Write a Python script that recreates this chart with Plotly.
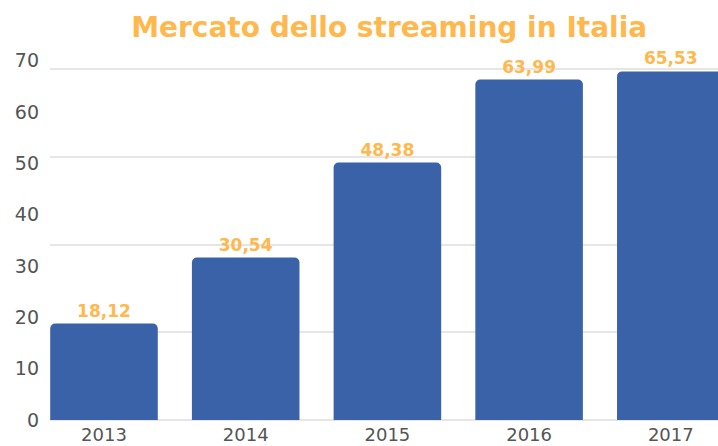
import plotly.graph_objects as go

# Italian streaming market by year
years = ["2013", "2014", "2015", "2016", "2017"]
market = [18.12, 30.54, 48.38, 63.99, 65.53]
axis_labels = [0, 10, 20, 30, 40, 50, 60, 70]

title_text = "Mercato dello streaming in Italia"

BAR_COLOR = "#3a62a8"
ACCENT = "#ffb84d"
TICK_GRAY = "#555555"
GRID_GRAY = "#e6e6e6"

fig = go.Figure()

fig.add_trace(go.Bar(
    x=years,
    y=market,
    marker=dict(color=BAR_COLOR, line=dict(width=0)),
    texttemplate="%{y:.2f}",
    textposition="outside",
    textfont=dict(family="DejaVu Sans", size=17, color=ACCENT, weight="bold"),
    cliponaxis=False,
    hoverinfo="x+y",
    showlegend=False,
))

# companion axis carrying the value scale labels
fig.add_trace(go.Scatter(
    x=years, y=[None] * len(years), yaxis="y2",
    mode="markers", showlegend=False, hoverinfo="skip",
))

fig.update_layout(
    width=718,
    height=446,
    margin=dict(l=50, r=0, t=50, b=26),
    paper_bgcolor="white",
    plot_bgcolor="white",
    separators=",.",
    bargap=0.241,
    barcornerradius=5,
    title=dict(
        text=title_text,
        font=dict(family="DejaVu Sans", size=28, color=ACCENT, weight="bold"),
        x=0.542, xref="container", xanchor="center",
        y=0.94, yref="container", yanchor="middle",
    ),
    xaxis=dict(
        type="category",
        range=[-0.381, 4.333],
        showgrid=False,
        zeroline=False,
        showline=False,
        ticks="",
        automargin=False,
        ticklabelstandoff=2,
        tickfont=dict(family="DejaVu Sans", size=18, color=TICK_GRAY),
    ),
    yaxis=dict(
        range=[0, 69.55],
        tick0=0,
        dtick=16.48,
        showgrid=True,
        gridcolor=GRID_GRAY,
        gridwidth=1.5,
        zeroline=True,
        zerolinecolor=GRID_GRAY,
        zerolinewidth=2,
        showline=False,
        ticks="",
        showticklabels=False,
        automargin=False,
    ),
    yaxis2=dict(
        overlaying="y",
        side="left",
        range=[0, 72.08],
        tickmode="array",
        tickvals=axis_labels,
        ticktext=[str(v) for v in axis_labels],
        showgrid=False,
        zeroline=False,
        showline=False,
        ticks="",
        automargin=False,
        ticklabelstandoff=10,
        tickfont=dict(family="DejaVu Sans", size=19, color=TICK_GRAY),
    ),
)

fig.write_html("out.html")
